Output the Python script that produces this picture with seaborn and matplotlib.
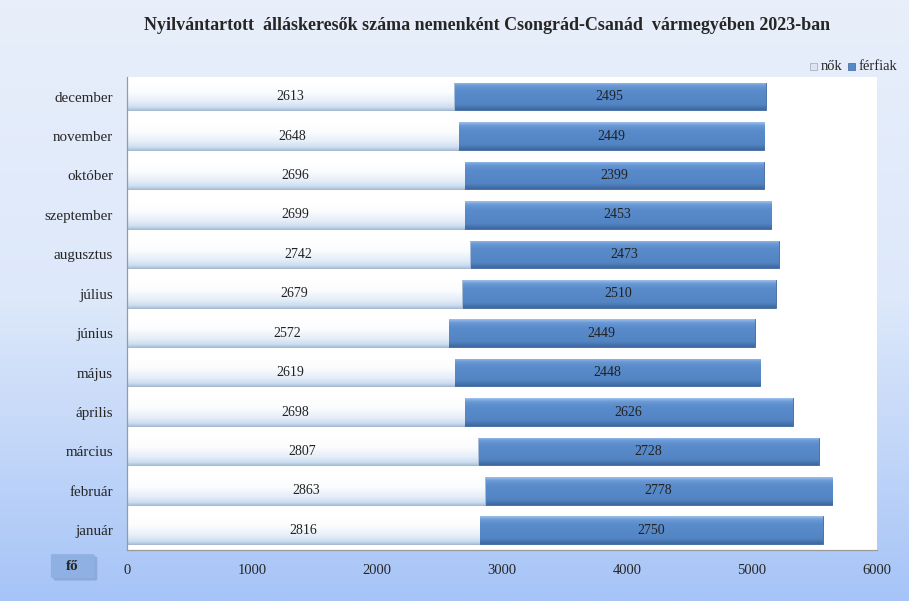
import numpy as np
import pandas as pd
import matplotlib.pyplot as plt
import seaborn as sns
from matplotlib.colors import LinearSegmentedColormap
from matplotlib.patches import FancyBboxPatch

months = ['január', 'február', 'március', 'április', 'május', 'június',
          'július', 'augusztus', 'szeptember', 'október', 'november', 'december']
nok = [2816, 2863, 2807, 2698, 2619, 2572, 2679, 2742, 2699, 2696, 2648, 2613]
ferfiak = [2750, 2778, 2728, 2626, 2448, 2449, 2510, 2473, 2453, 2399, 2449, 2495]
xticks = [0, 1000, 2000, 3000, 4000, 5000, 6000]

df = pd.DataFrame({'honap': months, 'nok': nok, 'ferfiak': ferfiak})
df['osszes'] = df['nok'] + df['ferfiak']
order = months[::-1]

sns.set_style('white')
plt.rcParams['font.family'] = ['Liberation Serif', 'DejaVu Serif']

fig = plt.figure(figsize=(9.09, 6.01), dpi=100)

# background gradient
bg = fig.add_axes([0, 0, 1, 1], zorder=-5)
grad = np.linspace(0, 1, 256).reshape(-1, 1)
bg_cmap = LinearSegmentedColormap.from_list('bg', ['#e8effb', '#dde8fa', '#a6c4f7'])
bg.imshow(grad, aspect='auto', cmap=bg_cmap, extent=[0, 1, 0, 1], origin='upper')
bg.axis('off')

ax = fig.add_axes([0.1397, 0.0849, 0.8251, 0.7871])
ax.set_facecolor('white')

sns.barplot(data=df, y='honap', x='osszes', order=order, orient='h',
            color='#5589c9', width=0.7, ax=ax, zorder=2)
sns.barplot(data=df, y='honap', x='nok', order=order, orient='h',
            color='#eef3fa', width=0.7, ax=ax, zorder=3)

male_cmap = LinearSegmentedColormap.from_list(
    'm', [(0, '#9dbfea'), (0.12, '#6a9ad6'), (0.3, '#5a8bcb'), (0.8, '#5385c4'), (1, '#3e68a0')])
female_cmap = LinearSegmentedColormap.from_list(
    'f', [(0, '#ffffff'), (0.35, '#fbfcfe'), (0.7, '#e6eef8'), (0.9, '#cddff2'), (1, '#aec4dc')])
g = np.linspace(0, 1, 64).reshape(-1, 1)
n = len(order)
for i, p in enumerate(ax.patches):
    x0, y0 = p.get_x(), p.get_y()
    w, h = p.get_width(), p.get_height()
    cmap = male_cmap if i < n else female_cmap
    im = ax.imshow(g, aspect='auto', cmap=cmap, origin='upper',
                   extent=[x0, x0 + w, y0 + h, y0], zorder=p.get_zorder() + 0.1)
    im.set_clip_path(p)
    p.set_edgecolor('#a9bcd3' if i >= n else '#3d659c')
    p.set_linewidth(0.6)

ax.set_xlim(0, 6000)
ax.set_ylim(11.5, -0.5)

for j, m in enumerate(order):
    row = df[df['honap'] == m].iloc[0]
    ax.text(row['nok'] / 2, j, str(row['nok']), ha='center', va='center',
            fontsize=10, color='#222222', zorder=6)
    ax.text(row['nok'] + row['ferfiak'] / 2, j, str(row['ferfiak']), ha='center',
            va='center', fontsize=10, color='#222222', zorder=6)

ax.set_xticks(xticks)
ax.set_xticklabels([str(t) for t in xticks], fontsize=10.5)
ax.tick_params(axis='y', labelsize=10.8, length=0, pad=10)
ax.tick_params(axis='x', length=0, pad=10)
ax.set_xlabel('')
ax.set_ylabel('')
for s in ['top', 'right']:
    ax.spines[s].set_visible(False)
for s in ['left', 'bottom']:
    ax.spines[s].set_color('#9a9a9a')
    ax.spines[s].set_linewidth(0.9)
    ax.spines[s].set_zorder(10)

fig.text(0.536, 0.958, 'Nyilvántartott  álláskeresők száma nemenként Csongrád-Csanád  vármegyében 2023-ban',
         ha='center', va='center', fontsize=13, fontweight='bold')

# legend
fig.patches.append(plt.Rectangle((0.891, 0.884), 0.008, 0.012, transform=fig.transFigure,
                                 facecolor='#dfe5ee', edgecolor='#9aa7ba', linewidth=0.5))
fig.text(0.903, 0.889, 'nők', fontsize=10.5, va='center')
fig.patches.append(plt.Rectangle((0.933, 0.884), 0.008, 0.012, transform=fig.transFigure,
                                 facecolor='#5589c9', edgecolor='#3d659c', linewidth=0.5))
fig.text(0.944, 0.889, 'férfiak', fontsize=10.5, va='center')

# "fő" box
fig.patches.append(FancyBboxPatch((0.061, 0.036), 0.044, 0.036, transform=fig.transFigure,
                                  boxstyle='round,pad=0.002', facecolor='#6f8fbf',
                                  edgecolor='none', alpha=0.5))
fig.patches.append(FancyBboxPatch((0.058, 0.040), 0.044, 0.036, transform=fig.transFigure,
                                  boxstyle='round,pad=0.002', facecolor='#8fb0e2',
                                  edgecolor='none'))
fig.text(0.080, 0.058, 'fő', ha='center', va='center', fontsize=11, fontweight='bold')

fig.savefig('out.png', dpi=100)
